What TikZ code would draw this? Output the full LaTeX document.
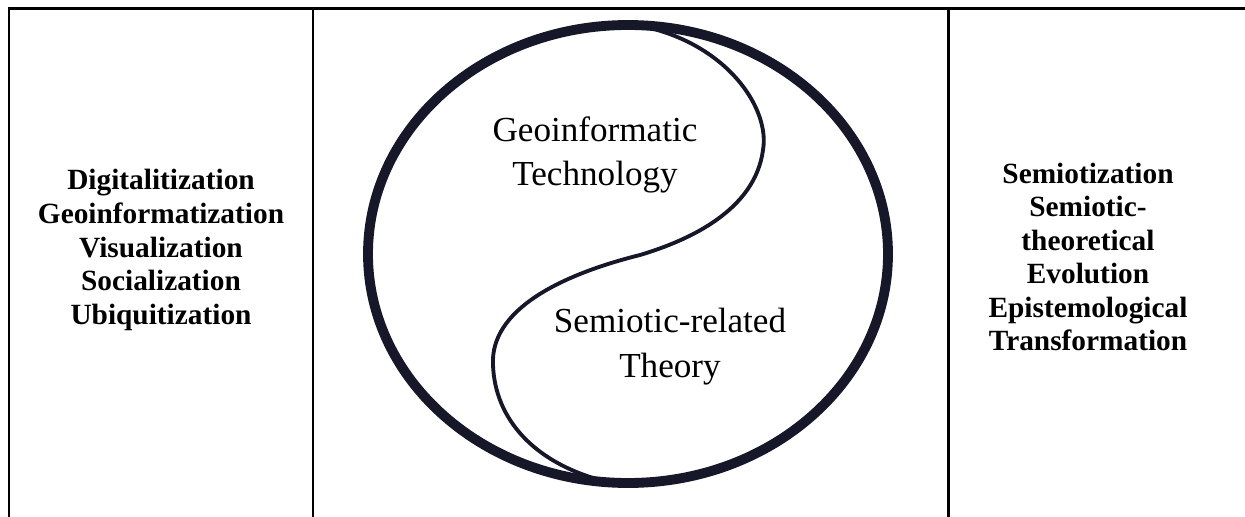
\documentclass[tikz,border=0pt]{standalone}
\usepackage{xcolor}
\usepackage{fontspec}
\setmainfont{Liberation Serif}
\usepackage{tikz}
\usetikzlibrary{positioning, calc}
\definecolor{ysRing}{HTML}{17172A}
\definecolor{ysRule}{HTML}{000000}
\tikzset{
  tablerule/.style={draw=ysRule, line width=1.7pt},
  ring/.style={draw=ysRing, line width=5.6pt},
  sline/.style={draw=ysRing, line width=2.2pt, line cap=round},
  process/.style={font=\bfseries\fontsize{16.7}{19.1}\selectfont, align=center, inner sep=0pt},
  inlabel/.style={font=\fontsize{20}{25.5}\selectfont, align=center, inner sep=0pt}
}
\begin{document}
\begin{tikzpicture}[x=0.02cm, y=-0.02cm]
  \useasboundingbox (0,0) rectangle (1245,517);
  % table frame, open at the bottom and right
  \draw[tablerule] (8,8.5) -- (1245,8.5);
  \draw[tablerule] (9,8.5) -- (9,517);
  \draw[tablerule] (313,8.5) -- (313,517);
  \draw[tablerule] (948,8.5) -- (948,517);
  % left and right columns
  \node[process] (trends) at (161,250) {Digitalitization\\Geoinformatization\\Visualization\\Socialization\\Ubiquitization};
  \node[process] (effects) at (1088,257) {Semiotization\\Semiotic-\\theoretical\\Evolution\\Epistemological\\Transformation};
  % yin-yang figure
  \draw[ring] (628,254) ellipse [x radius=260, y radius=229];
  \draw[sline] (650,28) .. controls (730,48) and (770,110) .. (763,150)
    .. controls (755,210) and (690,240) .. (640,255)
    .. controls (560,275) and (490,310) .. (493,365)
    .. controls (495,420) and (535,462) .. (600,480);
  \node[inlabel] (geotech) at (595,155) {Geoinformatic\\Technology};
  \node[inlabel] (semtheory) at (670,347) {Semiotic-related\\Theory};
\end{tikzpicture}
\end{document}
